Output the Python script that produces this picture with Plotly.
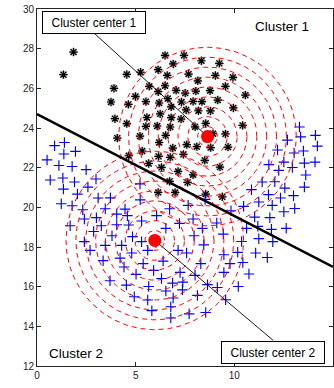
import numpy as np
import plotly.graph_objects as go

# ---------------- data ----------------
cluster1_x = [1.85, 1.34, 4.55, 5.25, 3.90, 3.75, 4.63, 4.99, 3.95, 4.55, 4.07, 5.22, 4.65,
              6.49, 7.45, 8.33, 9.24, 6.90, 6.14, 7.68, 9.04, 9.93, 6.60, 8.15, 9.55, 6.49,
              7.05, 5.69, 7.51, 8.05, 8.77, 10.56, 6.14, 6.63, 7.32, 7.91, 8.36, 9.16, 9.95,
              5.52, 6.19, 6.80, 7.56, 8.18, 8.79, 5.57, 6.24, 6.80, 7.30, 8.55, 10.42, 5.52,
              6.09, 6.75, 8.01, 6.52, 8.92, 9.55, 6.19, 7.59, 6.88, 5.33, 6.16, 6.75, 7.42,
              8.50, 5.66, 6.31, 7.15, 7.91, 6.72, 7.63, 6.14, 7.00, 8.55, 9.39, 9.68, 9.27,
              8.10, 8.80]
cluster1_y = [27.83, 26.69, 26.70, 26.81, 26.00, 25.31, 25.19, 25.59, 24.47, 24.22, 23.49, 23.59, 22.60,
              27.66, 27.66, 27.39, 27.26, 27.23, 26.94, 26.72, 26.65, 26.55, 26.65, 26.38, 26.10, 26.13,
              25.90, 26.10, 25.76, 25.86, 25.88, 25.66, 25.83, 25.48, 25.31, 25.34, 25.33, 25.41, 25.01,
              25.33, 25.26, 25.07, 24.91, 24.87, 24.86, 24.53, 24.71, 24.52, 24.45, 24.23, 24.13, 24.08,
              24.10, 24.05, 24.06, 23.63, 23.71, 23.70, 23.27, 23.16, 22.99, 22.84, 22.57, 22.52, 22.67,
              22.37, 22.21, 22.01, 21.81, 21.64, 21.31, 21.26, 20.75, 20.75, 20.67, 20.53, 23.04, 22.03,
              23.06, 23.01]

cluster2_x = [0.89, 1.39, 1.36, 1.95, 0.51, 1.11, 1.78, 2.49, 0.67, 1.31, 1.90, 2.99, 1.34, 2.58,
              2.05, 1.23, 3.10, 3.72, 1.78, 3.46, 4.46, 2.32, 4.04, 2.40, 3.01, 4.58, 1.68, 3.26,
              4.04, 4.65, 2.87, 3.80, 4.84, 2.40, 3.46, 4.29, 2.69, 3.35, 4.21, 4.80, 4.41, 3.70,
              4.53, 4.93,
              5.22, 5.23, 6.72, 7.66, 8.52, 9.83, 6.06, 7.91, 5.30, 7.22, 9.11, 6.53, 8.38, 5.30,
              7.96, 9.44, 6.03, 5.61, 7.15, 8.45, 5.38, 6.39, 7.58, 9.47, 5.91, 7.25, 8.30, 9.78,
              5.02, 6.31, 8.01, 9.47, 5.66, 6.87, 7.39, 8.64, 6.53, 7.37, 8.13, 9.14, 5.61, 6.90,
              9.56, 5.82, 6.78, 7.71, 8.55, 6.78,
              13.30, 14.11, 13.36, 14.21, 12.69, 13.50, 13.03, 12.19, 14.09, 13.55, 12.51, 12.94,
              11.75, 12.25, 13.62, 11.41, 12.05, 12.56, 13.55, 10.87, 11.73, 12.34, 13.00, 11.24,
              11.92, 13.06, 10.47, 12.51, 11.03, 11.80, 10.62, 11.19, 11.88, 12.63, 10.37, 11.24,
              11.95, 10.17, 11.08, 11.67, 10.43, 10.74, 10.20]
cluster2_y = [23.11, 23.27, 22.69, 22.82, 22.39, 22.11, 22.06, 21.90, 21.38, 21.48, 21.28, 21.43, 20.92, 21.02,
              20.67, 20.18, 20.47, 20.48, 20.08, 19.93, 19.91, 19.88, 19.66, 19.41, 19.48, 19.58, 19.07, 19.07,
              19.12, 19.11, 18.78, 18.57, 18.52, 18.27, 18.08, 18.08, 17.83, 17.31, 17.44, 17.70, 16.99, 16.30,
              16.08, 15.49,
              21.18, 20.38, 19.93, 20.10, 20.40, 19.83, 19.58, 19.41, 19.31, 19.19, 19.21, 18.94, 18.94, 18.27,
              18.57, 18.65, 18.23, 17.83, 17.83, 18.11, 17.16, 17.29, 17.70, 17.61, 16.82, 16.72, 17.16, 17.16,
              16.62, 16.41, 16.57, 16.72, 16.01, 16.18, 16.23, 16.10, 15.78, 15.84, 15.56, 15.96, 15.33, 15.43,
              15.34, 14.79, 14.99, 14.63, 14.70, 14.42,
              24.05, 23.63, 23.55, 23.09, 23.39, 22.84, 22.74, 22.89, 22.28, 22.23, 22.28, 22.01,
              22.15, 21.86, 21.63, 21.28, 21.29, 20.97, 21.02, 20.89, 20.64, 20.47, 20.59, 20.27,
              20.10, 19.94, 20.05, 19.78, 19.51, 19.48, 18.94, 19.04, 18.89, 18.94, 18.28, 18.42,
              18.27, 17.73, 17.70, 17.47, 17.22, 16.64, 16.01]

center_x = [8.64, 5.97]
center_y = [23.57, 18.33]
center_labels = ["Cluster center 1", "Cluster center 2"]
radii = [0.5, 1.0, 1.5, 2.0, 2.5, 3.0, 3.5, 4.0, 4.5]

boundary_x = [0, 15]
boundary_y = [24.7, 17.0]

cluster_names = ["Cluster 1", "Cluster 2"]
x_ticks = [0, 5, 10, 15]
y_ticks = [12, 14, 16, 18, 20, 22, 24, 26, 28, 30]

# ---------------- figure ----------------
FONT = "Liberation Sans, Arial, Helvetica, sans-serif"
fig = go.Figure()

# points
fig.add_trace(go.Scatter(x=cluster1_x, y=cluster1_y, mode="markers",
                         marker=dict(symbol="circle", size=8, color="rgba(0,0,0,0.25)", line=dict(width=0)),
                         hoverinfo="skip", showlegend=False))
fig.add_trace(go.Scatter(x=cluster1_x, y=cluster1_y, mode="markers",
                         marker=dict(symbol="asterisk-open", size=7, color="black",
                                     line=dict(width=1.2, color="black")),
                         showlegend=False))
fig.add_trace(go.Scatter(x=cluster2_x, y=cluster2_y, mode="markers",
                         marker=dict(symbol="cross-thin-open", size=7.5, color="#0000ff",
                                     line=dict(width=1.15, color="#0000ff")),
                         showlegend=False))

# dashed circles around centres
theta = np.linspace(0, 2 * np.pi, 241)
for cx, cy in zip(center_x, center_y):
    for r in radii:
        fig.add_trace(go.Scatter(x=cx + r * np.cos(theta), y=cy + r * np.sin(theta), mode="lines",
                                 line=dict(color="#ff0000", width=1, dash="5px,4px"),
                                 hoverinfo="skip", showlegend=False))

# decision boundary
fig.add_trace(go.Scatter(x=boundary_x, y=boundary_y, mode="lines",
                         line=dict(color="black", width=2.5), showlegend=False))

# label boxes and leader lines
label_pos = [(2.91, 29.32, 28.77), (11.97, 12.70, 13.29)]  # box centre x, box centre y, line start y
for (lx, ly, ls), cx, cy, txt in zip(label_pos, center_x, center_y, center_labels):
    fig.add_trace(go.Scatter(x=[lx, cx], y=[ls, cy], mode="lines",
                             line=dict(color="black", width=0.9), showlegend=False))
    fig.add_annotation(x=lx, y=ly, xref="x", yref="y", text=txt, showarrow=False,
                       font=dict(family=FONT, size=12, color="black"),
                       bgcolor="white", bordercolor="black", borderwidth=1, borderpad=3,
                       width=96, height=15, xanchor="center", yanchor="middle")

# centres
fig.add_trace(go.Scatter(x=center_x, y=center_y, mode="markers",
                         marker=dict(symbol="circle", size=13, color="#ff0000"), showlegend=False))

# cluster names
fig.add_annotation(x=12.42, y=29.12, xref="x", yref="y", text=cluster_names[0], showarrow=False,
                   font=dict(family=FONT, size=13.5, color="black"))
fig.add_annotation(x=2.0, y=12.62, xref="x", yref="y", text=cluster_names[1], showarrow=False,
                   font=dict(family=FONT, size=13.5, color="black"))

axis_common = dict(showgrid=False, zeroline=False, showline=True, linecolor="#262626", linewidth=1,
                   mirror="ticks", ticks="inside", ticklen=4, tickwidth=1, tickcolor="#262626",
                   tickfont=dict(family=FONT, size=10, color="#262626"), automargin=False)
fig.update_xaxes(range=[0, 15], tickvals=x_ticks, **axis_common)
fig.update_yaxes(range=[12, 30], tickvals=y_ticks, **axis_common)

fig.update_layout(width=334, height=388, margin=dict(l=37, r=1, t=9, b=22),
                  plot_bgcolor="white", paper_bgcolor="white", showlegend=False)

fig.write_html("out.html", config={"displayModeBar": False},
               post_script="document.body.style.margin='0';document.body.style.overflow='hidden';")
